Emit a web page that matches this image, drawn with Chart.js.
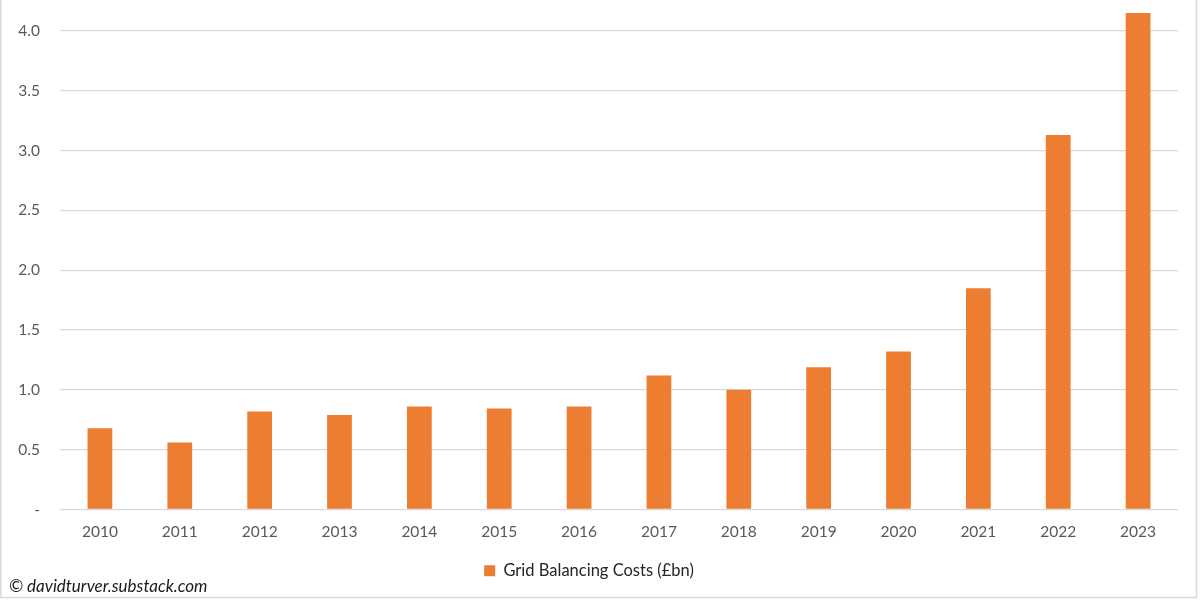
<!DOCTYPE html>
<html>
<head>
<meta charset="utf-8">
<script src="https://cdn.jsdelivr.net/npm/chart.js@4"></script>
<style>
  html, body { margin: 0; padding: 0; background: #fff; }
  #wrap { width: 1200px; height: 600px; position: relative; }
</style>
</head>
<body>
<div id="wrap"><canvas id="chart" width="1200" height="600"></canvas></div>
<script>
// données
const years = ['2010', '2011', '2012', '2013', '2014', '2015', '2016', '2017', '2018', '2019', '2020', '2021', '2022', '2023'];
const costs = [0.68, 0.56, 0.82, 0.79, 0.86, 0.845, 0.86, 1.12, 1.0, 1.19, 1.32, 1.85, 3.13, 4.15];
const yTicks = [0, 0.5, 1.0, 1.5, 2.0, 2.5, 3.0, 3.5, 4.0];

const orange = '#ed7d31';
const grey = '#595959';
const police = 'Lato, "Open Sans", sans-serif';

// cadre + copyright
const cadre = {
    id: 'cadre',
    afterDraw(chart) {
        const ctx = chart.ctx;
        ctx.save();
        ctx.strokeStyle = '#d9d9d9';
        ctx.lineWidth = 1.5;
        ctx.beginPath();
        ctx.moveTo(0.75, 0);
        ctx.lineTo(0.75, 597.5);
        ctx.lineTo(1196.5, 597.5);
        ctx.lineTo(1196.5, 0);
        ctx.stroke();
        ctx.fillStyle = '#1a1a1a';
        ctx.font = 'italic 17px ' + police;
        ctx.textBaseline = 'alphabetic';
        ctx.fillText('\u00a9 davidturver.substack.com', 9, 592);
        ctx.restore();
    }
};

new Chart(document.getElementById('chart'), {
    type: 'bar',
    data: {
        labels: years,
        datasets: [{
            label: 'Grid Balancing Costs (\u00a3bn)',
            data: costs,
            backgroundColor: orange,
            borderColor: orange,
            categoryPercentage: 1,
            barPercentage: 0.31
        }]
    },
    options: {
        responsive: false,
        animation: false,
        devicePixelRatio: 1,
        layout: { padding: { top: 0, left: 0, right: 22, bottom: 11 } },
        plugins: {
            tooltip: { enabled: false },
            legend: {
                position: 'bottom',
                labels: {
                    boxWidth: 11,
                    boxHeight: 11,
                    padding: 10,
                    color: '#262626',
                    font: { family: police, size: 16.5 }
                }
            }
        },
        scales: {
            x: {
                grid: { display: false },
                border: { display: false },
                ticks: { color: grey, padding: 5, font: { family: police, size: 15.5 }, maxRotation: 0 },
                afterFit: s => { s.height = 43; }
            },
            y: {
                min: 0,
                max: 4.259,
                afterBuildTicks: s => {
                    s.ticks = yTicks.map(v => ({ value: v }));
                },
                grid: { color: '#d9d9d9', lineWidth: 1.3, drawTicks: false },
                border: { display: false },
                ticks: {
                    color: grey,
                    padding: 20,
                    font: { family: police, size: 15.5 },
                    callback: v => v === 0 ? '-' : v.toFixed(1)
                },
                // largeur fixe, pas de marge en haut
                afterFit: s => { s.width = 60; s.paddingTop = 0; s.paddingBottom = 0; }
            }
        }
    },
    plugins: [cadre]
});
</script>
</body>
</html>
